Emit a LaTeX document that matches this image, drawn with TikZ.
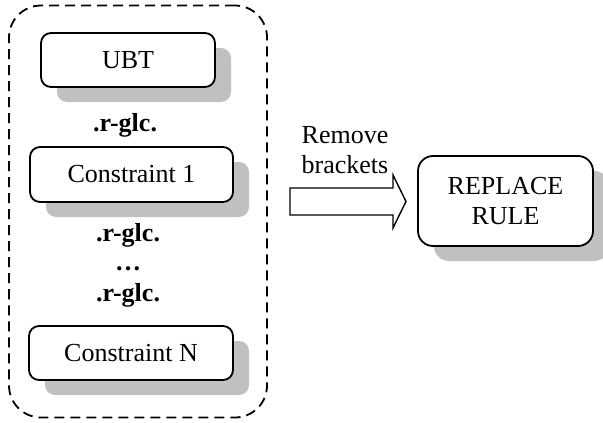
\documentclass[tikz,border=0pt]{standalone}
\usepackage{fontspec}
\setmainfont{Liberation Serif}
\usetikzlibrary{shadows}
\definecolor{shadowgray}{HTML}{C0C0C0}
\tikzset{
  x=1pt, y=-1pt,
  txt/.style={font=\fontsize{26}{30}\selectfont, align=center, inner sep=0pt},
  boxnode/.style={txt, draw, line width=1.8pt, rounded corners=10pt, fill=white,
    general shadow={shadow xshift=16pt, shadow yshift=-15pt, fill=shadowgray, draw=none}},
  lbl/.style={txt, font=\fontsize{26}{30}\selectfont\bfseries},
  dashbox/.style={draw, line width=1.8pt, dash pattern=on 10pt off 6pt, rounded corners=32pt},
}
\begin{document}
\begin{tikzpicture}
\useasboundingbox (0,0) rectangle (603,423);
\node[dashbox, minimum width=258pt, minimum height=412pt] (group) at (138,211.5) {};
\node[boxnode, minimum width=174pt, minimum height=54pt] (ubt) at (128,60) {UBT};
\node[lbl] (r1) at (125,125) {.r-glc.};
\node[boxnode, minimum width=203pt, minimum height=55pt] (c1) at (131.5,174.5) {Constraint 1};
\node[lbl] (r2) at (128,235) {.r-glc.};
\node[lbl] (dots) at (128,269) {\ldots};
\node[lbl] (r3) at (128,295) {.r-glc.};
\node[boxnode, minimum width=204pt, minimum height=54pt] (cn) at (131,353) {Constraint N};
\node[boxnode, rounded corners=15pt, minimum width=175pt, minimum height=90pt] (rule) at (505.5,201) {REPLACE\\RULE};
\node[txt] (rm) at (345,150) {Remove\\brackets};
\draw[line width=1.4pt, fill=white] (290,188) -- (393,188) -- (393,175) -- (406,201.5) -- (393,228) -- (393,215) -- (290,215) -- cycle;
\end{tikzpicture}
\end{document}
